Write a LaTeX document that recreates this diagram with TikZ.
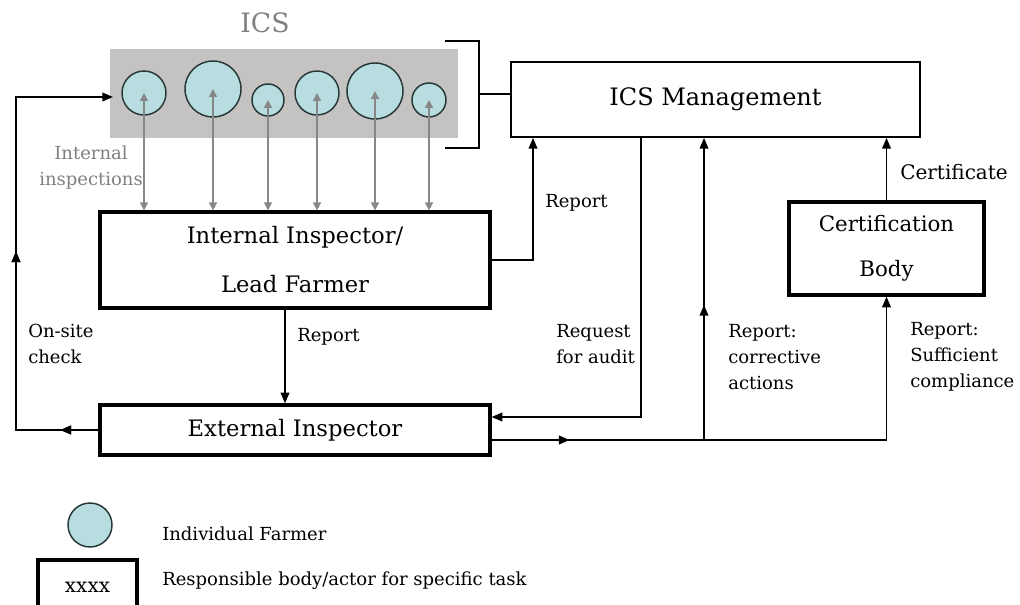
\documentclass[tikz,border=0pt]{standalone}
\usepackage{fontspec}
\setmainfont{DejaVu Serif}
\usetikzlibrary{arrows.meta,decorations.markings}
\definecolor{farmfill}{RGB}{183,221,224}
\definecolor{farmline}{RGB}{40,55,55}
\definecolor{icsgray}{RGB}{197,194,194}
\definecolor{inspgray}{RGB}{135,135,135}
\definecolor{graytext}{RGB}{128,128,128}

\begin{document}
\begin{tikzpicture}[x=0.75pt,y=-0.75pt]
\tikzset{
  farmer/.style={circle, draw=farmline, fill=farmfill, line width=1.1pt, inner sep=0pt},
  actor/.style={draw, line width=2.4pt, inner sep=0pt},
  lbl/.style={anchor=west, align=left, inner sep=0pt, font=\fontsize{13.5}{19.5}\selectfont},
  arr/.style={line width=1.1pt, -{Triangle[length=8pt,width=6.5pt]}},
  inspect/.style={draw=inspgray, line width=1.1pt, {Triangle[length=6pt,width=6pt]}-{Triangle[length=6pt,width=6pt]}},
  midarr/.style={postaction={decorate}, decoration={markings,
      mark=at position #1 with {\arrow{Triangle[length=8pt,width=6.5pt]}}}}
}
\useasboundingbox (0,0) rectangle (1020,605);

\node[fill=icsgray, minimum width=261pt, minimum height=66.75pt] (ics) at (284,93.5) {};
\node[text=graytext, font=\fontsize{20}{20}\selectfont] (icstitle) at (265,23) {ICS};
\foreach \n/\x/\y/\d in {1/144/93/33pt,2/213/89/42pt,3/268/100/24pt,4/317/93/33pt,5/375/91/42pt,6/429/100/25.5pt}
  \node[farmer, minimum size=\d] (f\n) at (\x,\y) {};

\node[draw, line width=1.4pt, minimum width=306.75pt, minimum height=56.25pt,
  font=\fontsize{18}{18}\selectfont] (mgmt) at (715.5,99.5) {ICS Management};
\node[actor, minimum width=292.5pt, minimum height=72pt, align=center,
  font=\fontsize{17}{36.75}\selectfont] (iib) at (295,260) {Internal Inspector/\\Lead Farmer};
\node[actor, minimum width=292.5pt, minimum height=37.5pt,
  font=\fontsize{17}{17}\selectfont] (ei) at (295,430) {External Inspector};
\node[actor, minimum width=146.25pt, minimum height=69.75pt, align=center,
  font=\fontsize{16}{33.75}\selectfont] (cb) at (886.5,248.5) {Certification\\Body};

\foreach \n in {1,...,6}
  \draw[inspect] (f\n.center) -- (f\n.center |- iib.north);

\coordinate (br) at (479,94);
\draw[line width=1.1pt] (445,41) -| (479,148) -- (445,148);
\draw[line width=1.1pt] (br) -- (br -| mgmt.west);

\coordinate (rp) at (533,260);
\coordinate (ie) at (285,0);
\coordinate (rq) at (641,417);
\coordinate (ca) at (704,440);
\coordinate (chk) at (113,97);
\coordinate (bl) at (16,97);

\draw[arr] (iib.east) -| (mgmt.south -| rp);
\draw[arr] (iib.south -| ie) -- (ei.north -| ie);
\draw[arr] (mgmt.south -| rq) |- (rq -| ei.east);
\draw[arr, midarr=58.5pt] (ca -| ei.east) -| (cb.south);
\draw[arr, midarr=101.25pt] (ca) -- (mgmt.south -| ca);
\draw[arr] (cb.north) -- (mgmt.south -| cb.north);
\draw[arr, midarr=28.5pt, midarr=195.75pt] (ei.west) -| (bl) -- (chk);

\node[lbl, text=graytext, align=center, anchor=center] (insp) at (91,168) {Internal\\inspections};
\node[lbl] (rep1) at (545,203) {Report};
\node[lbl] (rep2) at (297,337) {Report};
\node[lbl] (onsite) at (28,344) {On-site\\check};
\node[lbl] (req) at (556,344) {Request\\for audit};
\node[lbl] (corr) at (728,357) {Report:\\corrective\\actions};
\node[lbl] (suff) at (910,357) {Report:\\Sufficient\\compliance};
\node[lbl, font=\fontsize{15}{15}\selectfont] (cert) at (900,172) {Certificate};

\node[farmer, minimum size=33pt] (lfarm) at (90,525) {};
\node[actor, minimum width=74.25pt, minimum height=41.25pt,
  font=\fontsize{15}{15}\selectfont] (lbox) at (87.5,587.5) {xxxx};
\node[lbl] (lfarmtxt) at (162,534) {Individual Farmer};
\node[lbl] (lboxtxt) at (162,581) {Responsible body/actor for specific task};
\end{tikzpicture}
\end{document}
